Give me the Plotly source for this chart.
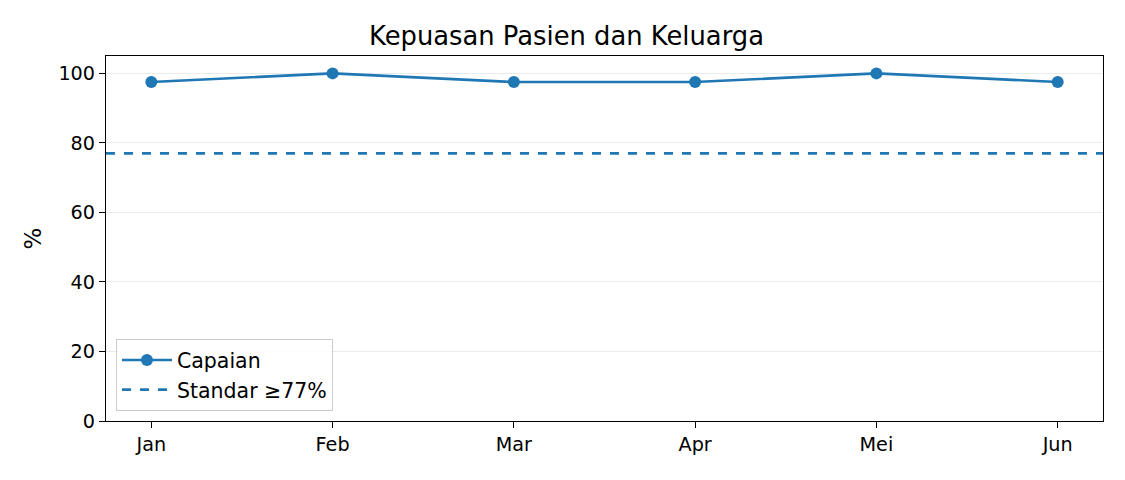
import plotly.graph_objects as go

months = ["Jan", "Feb", "Mar", "Apr", "Mei", "Jun"]
capaian = [97.5, 100, 97.5, 97.5, 100, 97.5]
standar = 77

blue = "#1f77b4"

fig = go.Figure()
fig.add_trace(go.Scatter(
    x=months, y=capaian, mode="lines+markers", name="Capaian",
    line=dict(color=blue, width=2.6), marker=dict(size=12, color=blue),
))
# legend entry for the standard line, the line itself is a shape
fig.add_trace(go.Scatter(
    x=[None], y=[None], mode="lines", name="Standar \u226577%",
    line=dict(color=blue, width=2.6, dash="dash"),
))
fig.add_shape(type="line", xref="paper", x0=0, x1=1, yref="y", y0=standar, y1=standar,
              line=dict(color=blue, width=2.6, dash="dash"))

# page body adds 8px, so the figure is a bit smaller than the window
fig.update_layout(
    width=1117, height=472,
    paper_bgcolor="white", plot_bgcolor="white",
    font=dict(family="DejaVu Sans", size=19.2, color="black"),
    title=dict(text="Kepuasan Pasien dan Keluarga", x=0.5, xanchor="center",
               y=0.941, yanchor="middle", font=dict(size=25.8)),
    margin=dict(l=98, r=22, t=48, b=59),
    showlegend=True,
    legend=dict(x=0.01, y=0.027, xanchor="left", yanchor="bottom",
                bgcolor="rgba(255,255,255,0.8)", bordercolor="#cccccc", borderwidth=1,
                itemwidth=50, font=dict(size=20.5)),
)
fig.update_xaxes(
    range=[-0.25, 5.25], showgrid=False, showline=True, linecolor="black", linewidth=1.3,
    mirror=True, ticks="outside", ticklen=6, tickcolor="black", tickwidth=1.3,
)
fig.update_yaxes(
    range=[0, 105], tickvals=[0, 20, 40, 60, 80, 100], showgrid=True, gridcolor="#ebebeb",
    zeroline=False, showline=True, linecolor="black", linewidth=1.3, mirror=True,
    ticks="outside", ticklen=6, tickcolor="black", tickwidth=1.3,
    title=dict(text="%", standoff=10),
)

fig.write_html("out.html")
